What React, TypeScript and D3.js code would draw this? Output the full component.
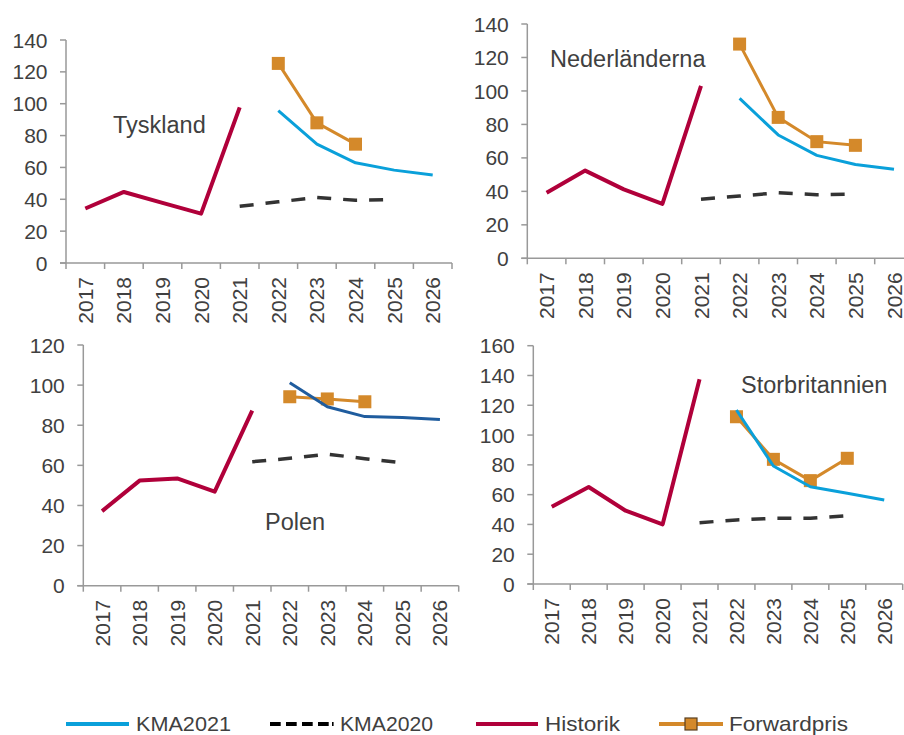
import React from 'react';
import * as d3 from 'd3';

const years = ['2017', '2018', '2019', '2020', '2021', '2022', '2023', '2024', '2025', '2026'];

// Tyskland
const tyHistorik = [34.2, 44.6, 37.7, 31, 97.7, null, null, null, null, null];
const tyKma2021 = [null, null, null, null, null, 95.6, 74.6, 62.9, 58.3, 55.3];
const tyKma2020 = [null, null, null, null, 35.6, 38.4, 41.1, 39.4, 39.8, null];
const tyForward = [null, null, null, null, null, 125.3, 88, 74.6, null, null];
const tyTicks = [0, 20, 40, 60, 80, 100, 120, 140];

// Nederländerna
const nlHistorik = [39.2, 52.4, 41.2, 32.5, 103, null, null, null, null, null];
const nlKma2021 = [null, null, null, null, null, 95.6, 73.7, 61.5, 56, 53.2];
const nlKma2020 = [null, null, null, null, 35.3, 37.2, 39.2, 38, 38.4, null];
const nlForward = [null, null, null, null, null, 128, 84.2, 69.7, 67.5, null];
const nlTicks = [0, 20, 40, 60, 80, 100, 120, 140];

// Polen
const plHistorik = [37.2, 52.4, 53.5, 46.9, 87.3, null, null, null, null, null];
const plKma2021 = [null, null, null, null, null, 101.2, 89.2, 84.3, 83.9, 82.9];
const plKma2020 = [null, null, null, null, 61.8, 63.5, 65.6, 63.3, 61.3, null];
const plForward = [null, null, null, null, null, 94.2, 93.1, 91.7, null, null];
const plTicks = [0, 20, 40, 60, 80, 100, 120];

// Storbritannien
const ukHistorik = [51.9, 65.1, 49.2, 40, 137.4, null, null, null, null, null];
const ukKma2021 = [null, null, null, null, null, 116.8, 79.2, 65.3, 60.9, 56.4];
const ukKma2020 = [null, null, null, null, 41.2, 43, 44.1, 44.1, 45.9, null];
const ukForward = [null, null, null, null, null, 112.3, 83.7, 69.4, 84.4, null];
const ukTicks = [0, 20, 40, 60, 80, 100, 120, 140, 160];

const legendLabels = ['KMA2021', 'KMA2020', 'Historik', 'Forwardpris'];

const C_HIST = '#B0003A';
const C_KMA21 = '#0AA0DA';
const C_KMA21_PL = '#1F5C9E';
const C_FWD = '#D4892A';
const C_KMA20 = '#333333';
const C_TEXT = '#404040';
const C_AXIS = '#999999';
const FONT = '"Liberation Sans", Arial, sans-serif';

type Series = (number | null)[];

interface PanelCfg {
  name: string;
  historik: Series;
  kma2021: Series;
  kma2020: Series;
  forward: Series;
  ticks: number[];
  x0: number;
  x1: number;
  yTop: number;
  yZero: number;
  kmaColor: string;
  lx: number;
  ly: number;
}

const panels: PanelCfg[] = [
  { name: 'Tyskland', historik: tyHistorik, kma2021: tyKma2021, kma2020: tyKma2020, forward: tyForward, ticks: tyTicks,
    x0: 66, x1: 452, yTop: 40, yZero: 263, kmaColor: C_KMA21, lx: 113, ly: 132.5 },
  { name: 'Nederländerna', historik: nlHistorik, kma2021: nlKma2021, kma2020: nlKma2020, forward: nlForward, ticks: nlTicks,
    x0: 527.3, x1: 913.3, yTop: 24, yZero: 258.3, kmaColor: C_KMA21, lx: 550, ly: 66.5 },
  { name: 'Polen', historik: plHistorik, kma2021: plKma2021, kma2020: plKma2020, forward: plForward, ticks: plTicks,
    x0: 83.3, x1: 458.7, yTop: 345, yZero: 585.7, kmaColor: C_KMA21_PL, lx: 265, ly: 530 },
  { name: 'Storbritannien', historik: ukHistorik, kma2021: ukKma2021, kma2020: ukKma2020, forward: ukForward, ticks: ukTicks,
    x0: 533.3, x1: 902.7, yTop: 345.7, yZero: 584, kmaColor: C_KMA21, lx: 741, ly: 393 },
];

function Panel({ cfg }: { cfg: PanelCfg }) {
  const x = d3.scaleBand<string>().domain(years).range([cfg.x0, cfg.x1]).padding(0);
  const yMax = cfg.ticks[cfg.ticks.length - 1];
  const y = d3.scaleLinear().domain([0, yMax]).range([cfg.yZero, cfg.yTop]);
  const cx = (i: number) => (x(years[i]) as number) + x.bandwidth() / 2;
  const line = d3
    .line<number | null>()
    .defined((d) => d !== null)
    .x((_, i) => cx(i))
    .y((d) => y(d as number));

  const bounds = [...years.map((yr) => x(yr) as number), cfg.x1];

  return (
    <g>
      <line x1={cfg.x0} x2={cfg.x0} y1={cfg.yTop} y2={cfg.yZero} stroke={C_AXIS} strokeWidth={1.5} />
      <line x1={cfg.x0 - 6} x2={cfg.x1} y1={cfg.yZero} y2={cfg.yZero} stroke={C_AXIS} strokeWidth={1.5} />
      {cfg.ticks.map((t) => (
        <g key={'yt' + t}>
          <line x1={cfg.x0 - 6} x2={cfg.x0} y1={y(t)} y2={y(t)} stroke={C_AXIS} strokeWidth={1.5} />
          <text x={cfg.x0 - 18.5} y={y(t)} dy="0.36em" textAnchor="end" fontSize={21} fill={C_TEXT} fontFamily={FONT}>
            {t}
          </text>
        </g>
      ))}
      {bounds.map((b, i) => (
        <line key={'xt' + i} x1={b} x2={b} y1={cfg.yZero} y2={cfg.yZero + 6} stroke={C_AXIS} strokeWidth={1.5} />
      ))}
      {years.map((yr, i) => (
        <text
          key={'xl' + yr}
          transform={`translate(${cx(i)},${cfg.yZero + 14}) rotate(-90)`}
          dy="0.36em"
          textAnchor="end"
          fontSize={21}
          fill={C_TEXT}
          fontFamily={FONT}
        >
          {yr}
        </text>
      ))}
      <path d={line(cfg.forward) || ''} fill="none" stroke={C_FWD} strokeWidth={3} />
      {cfg.forward.map((v, i) =>
        v === null ? null : (
          <rect key={'fm' + i} x={cx(i) - 6.5} y={y(v) - 6.5} width={13} height={13} fill={C_FWD} />
        )
      )}
      <path d={line(cfg.kma2021) || ''} fill="none" stroke={cfg.kmaColor} strokeWidth={3} strokeLinejoin="round" />
      <path d={line(cfg.kma2020) || ''} fill="none" stroke={C_KMA20} strokeWidth={3.5} strokeDasharray="14,12" />
      <path d={line(cfg.historik) || ''} fill="none" stroke={C_HIST} strokeWidth={4} strokeLinejoin="round" />
      <text x={cfg.lx} y={cfg.ly} fontSize={23.5} fill={C_TEXT} fontFamily={FONT}>
        {cfg.name}
      </text>
    </g>
  );
}

function Legend() {
  const ly = 724;
  const tb = 730.5;
  const fs = 21;
  return (
    <g fontFamily={FONT} fontSize={fs} fill={C_TEXT}>
      <line x1={66} x2={129} y1={ly} y2={ly} stroke={C_KMA21} strokeWidth={4} />
      <text x={136} y={tb} textLength={95} lengthAdjust="spacingAndGlyphs">{legendLabels[0]}</text>
      <line x1={270} x2={334} y1={ly} y2={ly} stroke="#000" strokeWidth={4}
        strokeDasharray="10.7,5.3,10.7,5.3,10.7,5.3,10.7,3.3,1.6,100" />
      <text x={340} y={tb} textLength={93} lengthAdjust="spacingAndGlyphs">{legendLabels[1]}</text>
      <line x1={476} x2={538} y1={ly} y2={ly} stroke={C_HIST} strokeWidth={4} />
      <text x={545} y={tb} textLength={75} lengthAdjust="spacingAndGlyphs">{legendLabels[2]}</text>
      <line x1={659} x2={723} y1={ly} y2={ly} stroke={C_FWD} strokeWidth={4} />
      <rect x={685} y={ly - 6} width={12} height={12} fill={C_FWD} stroke="#5A4020" strokeWidth={1.2} />
      <text x={729} y={tb} textLength={119} lengthAdjust="spacingAndGlyphs">{legendLabels[3]}</text>
    </g>
  );
}

export default function App() {
  return (
    <svg
      width={904}
      height={735}
      style={{ position: 'absolute', left: 0, top: 0, display: 'block', background: '#fff' }}
    >
      <rect x={0} y={0} width={904} height={735} fill="#fff" />
      {panels.map((p) => (
        <Panel key={p.name} cfg={p} />
      ))}
      <Legend />
    </svg>
  );
}
